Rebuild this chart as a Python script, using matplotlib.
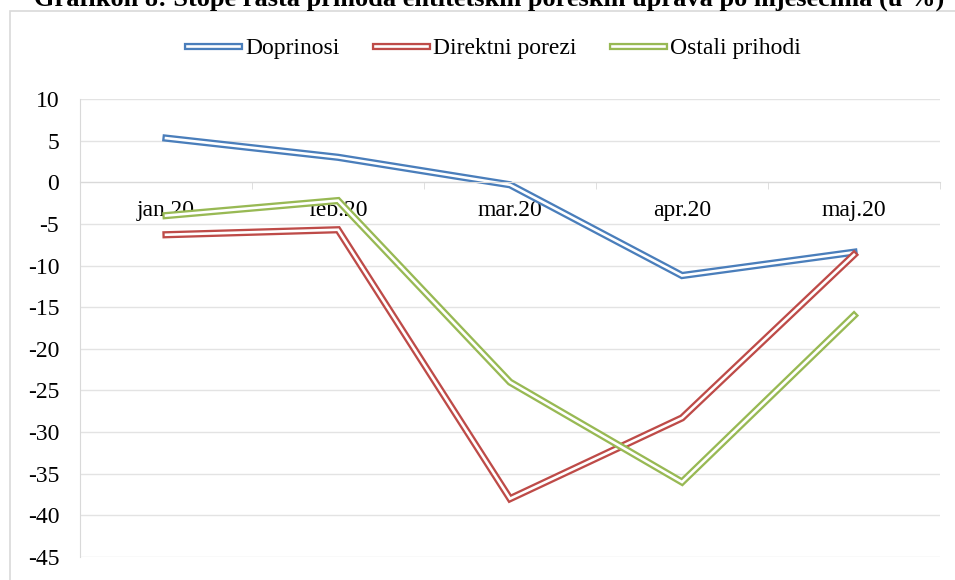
import matplotlib.pyplot as plt
import matplotlib.patheffects as pe
from matplotlib.patches import Rectangle

plt.rcParams['font.family'] = ['Liberation Serif', 'DejaVu Serif']
plt.rcParams['axes.unicode_minus'] = False

# data
months = ['jan.20', 'feb.20', 'mar.20', 'apr.20', 'maj.20']
doprinosi = [5.3, 3.0, -0.3, -11.2, -8.4]
direktni_porezi = [-6.3, -5.7, -38.0, -28.3, -8.7]
ostali_prihodi = [-4.0, -2.2, -24.0, -36.0, -16.0]

series = [
    ('Doprinosi', doprinosi, '#4a7ebb'),
    ('Direktni porezi', direktni_porezi, '#be4b48'),
    ('Ostali prihodi', ostali_prihodi, '#98b954'),
]

fig = plt.figure(figsize=(9.55, 5.8), dpi=100)
ax = fig.add_axes([80 / 955, 23 / 580, 860 / 955, 458 / 580])

# outer chart border
fig.patches.append(Rectangle((10 / 955, -0.1), 1.2, (580 - 11) / 580 + 0.1,
                             transform=fig.transFigure, fill=False,
                             edgecolor='#d9d9d9', lw=1.2))

x = list(range(len(months)))
for name, vals, col in series:
    # double line: thick coloured stroke with a white core
    ax.plot(x, vals, color='white', lw=1.9, label=name,
            solid_joinstyle='miter',
            path_effects=[pe.Stroke(linewidth=5.2, foreground=col), pe.Normal()])

ax.set_xlim(-0.5, len(months) - 0.5)
ax.set_ylim(-45, 10)
ax.set_yticks(range(-45, 11, 5))
ax.grid(axis='y', color='#e3e3e3', lw=1)
ax.set_axisbelow(True)

for s in ['top', 'right']:
    ax.spines[s].set_visible(False)
ax.spines['left'].set_color('#d9d9d9')
ax.spines['bottom'].set_position(('data', 0))
ax.spines['bottom'].set_color('#d9d9d9')

ax.set_xticks(x)
ax.set_xticklabels(months)
ax.set_xticks([i - 0.5 for i in range(len(months) + 1)], minor=True)
ax.tick_params(axis='x', which='major', length=0, pad=13, labelsize=17)
ax.tick_params(axis='x', which='minor', length=5, color='#d9d9d9', direction='out')
ax.tick_params(axis='y', length=0, pad=15, labelsize=17)

fig.legend(loc='center', bbox_to_anchor=(494 / 955, 1 - 48 / 580), ncol=3,
           frameon=False, fontsize=17, handlelength=2.2, handletextpad=0.25,
           columnspacing=1.5)

fig.text(489 / 955, 1 - 6 / 580, 'Grafikon 8: Stope rasta prihoda entitetskih poreskih uprava po mjesecima (u %)',
         ha='center', va='baseline', fontsize=19, fontweight='bold')

fig.savefig('out.png', dpi=100)
